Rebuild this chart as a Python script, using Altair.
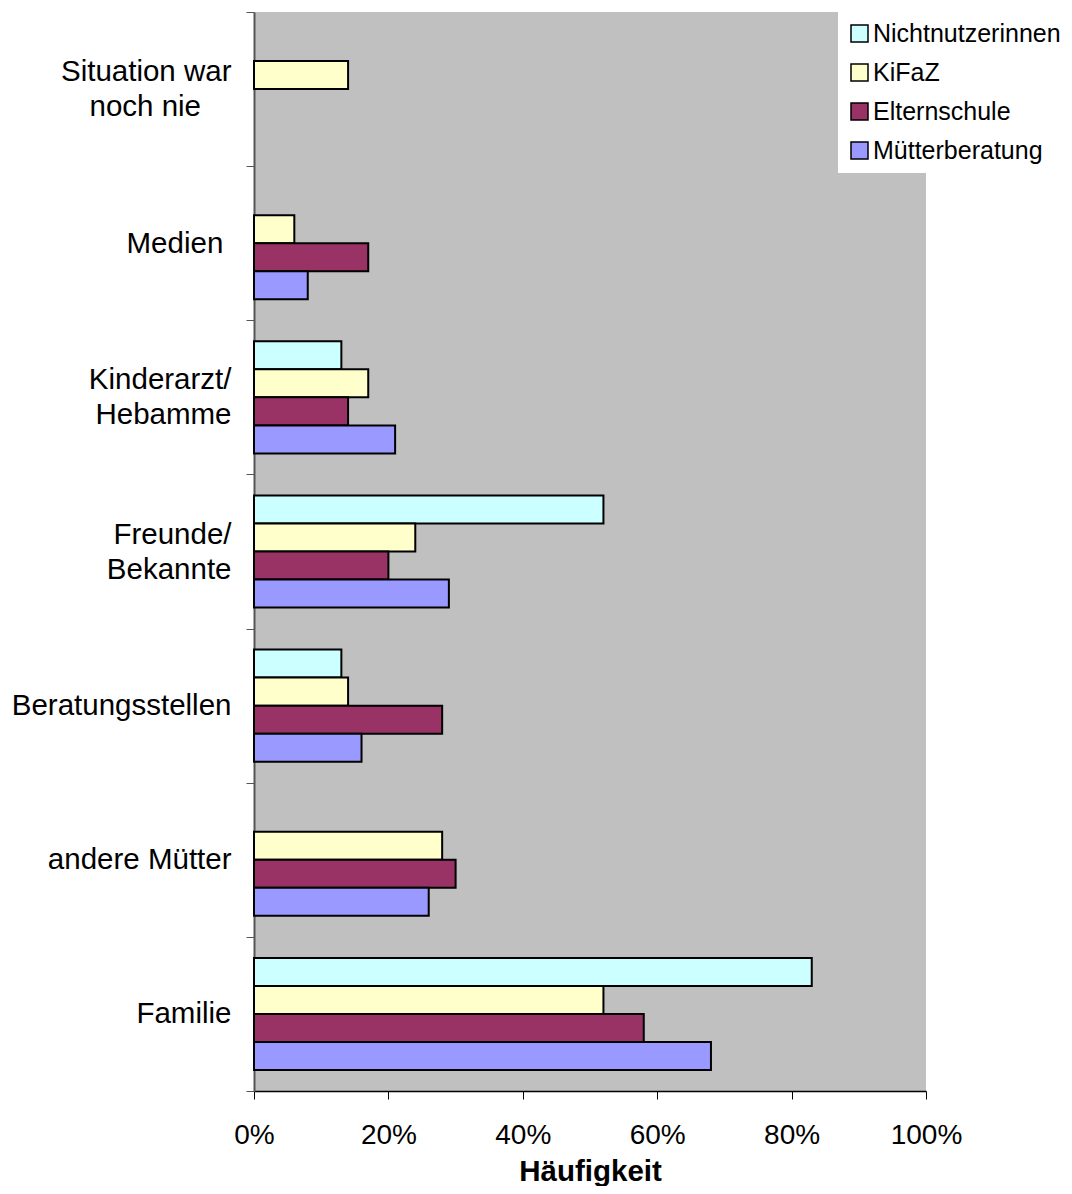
import altair as alt
import pandas as pd

categories = [
    "Situation war\nnoch nie\u00a0\u00a0\u00a0\u2009\u200b",
    "Medien\u00a0\u200b",
    "Kinderarzt/\nHebamme",
    "Freunde/\nBekannte",
    "Beratungsstellen",
    "andere Mütter",
    "Familie",
]
series = ["Nichtnutzerinnen", "KiFaZ", "Elternschule", "Mütterberatung"]
colors = ["#CCFFFF", "#FFFFCC", "#993366", "#9999FF"]

nichtnutzerinnen = [None, None, 0.13, 0.52, 0.13, None, 0.83]
kifaz = [0.14, 0.06, 0.17, 0.24, 0.14, 0.28, 0.52]
elternschule = [None, 0.17, 0.14, 0.20, 0.28, 0.30, 0.58]
muetterberatung = [None, 0.08, 0.21, 0.29, 0.16, 0.26, 0.68]

rows = []
for s, vals in zip(series, [nichtnutzerinnen, kifaz, elternschule, muetterberatung]):
    for c, v in zip(categories, vals):
        if v is not None:
            rows.append({"Kategorie": c, "Gruppe": s, "Wert": v})
df = pd.DataFrame(rows)

FONT = "Liberation Sans"

chart = (
    alt.Chart(df)
    .mark_bar(stroke="black", strokeWidth=2, opacity=1)
    .encode(
        x=alt.X(
            "Wert:Q",
            scale=alt.Scale(domain=[0, 1], nice=False),
            axis=alt.Axis(
                title="Häufigkeit",
                format=".0%",
                values=[0, 0.2, 0.4, 0.6, 0.8, 1.0],
                grid=False,
                tickSize=8,
                tickColor="black",
                domainColor="black",
                domainWidth=1.5,
                labelFlush=False,
                labelFontSize=28,
                labelPadding=22,
                labelColor="black",
                labelFont=FONT,
                titleFont=FONT,
                titleFontSize=29.5,
                titleFontWeight="bold",
                titleColor="black",
                titlePadding=8,
            ),
        ),
        y=alt.Y(
            "Kategorie:N",
            sort=categories,
            scale=alt.Scale(paddingInner=0, paddingOuter=0),
            axis=alt.Axis(
                title=None,
                tickBand="extent",
                tickSize=8,
                tickColor="#555555",
                domainColor="#555555",
                domainWidth=2,
                labelExpr="split(datum.label, '\\n')",
                labelFontSize=29.5,
                labelLineHeight=35,
                labelPadding=15,
                labelLimit=0,
                labelColor="black",
                labelFont=FONT,
                labelAlign="right",
                labelBaseline="middle",
                labelOffset={
                    "condition": {"test": "indexof(datum.label, '\\n') >= 0", "value": -17.5},
                    "value": 0,
                },
            ),
        ),
        yOffset=alt.YOffset(
            "Gruppe:N",
            sort=series,
            scale=alt.Scale(paddingInner=0, paddingOuter=0.75),
        ),
        color=alt.Color(
            "Gruppe:N",
            sort=series,
            scale=alt.Scale(domain=series, range=colors),
            legend=alt.Legend(
                title=None,
                orient="none",
                legendX=584,
                legendY=0,
                fillColor="white",
                padding=9,
                symbolType="square",
                symbolSize=289,
                symbolStrokeColor="black",
                symbolStrokeWidth=1.5,
                labelFontSize=25,
                labelFont=FONT,
                labelColor="black",
                labelOffset=1,
                labelLimit=0,
                rowPadding=13,
            ),
        ),
    )
    .properties(
        width=672,
        height=1079,
        autosize=alt.AutoSizeParams(type="none"),
        padding={"left": 246, "top": 4, "right": 138, "bottom": 95},
    )
    .configure(font=FONT)
    .configure_view(fill="#C0C0C0", stroke=None)
)

chart.save("out.html", embed_options={"renderer": "svg", "actions": False})
